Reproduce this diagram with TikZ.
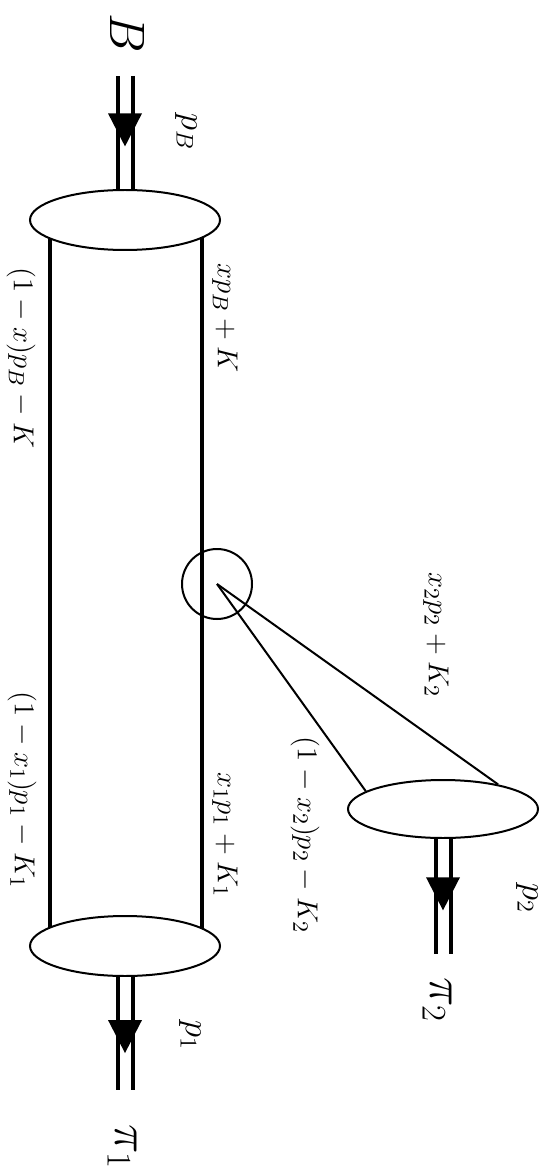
\documentclass[tikz,border=0pt]{standalone}
\usetikzlibrary{shapes.geometric,decorations.markings,calc}
\begin{document}
\begin{tikzpicture}[x=0.5pt,y=-0.5pt,
  blob/.style={ellipse,draw,line width=1pt,inner sep=0pt,minimum width=95pt,minimum height=30pt},
  vertex/.style={circle,draw,line width=1pt,inner sep=0pt,minimum size=35pt},
  quarkline/.style={line width=2pt},
  gluonline/.style={line width=1pt},
  meson/.style={double,line width=2pt,double distance=5.5pt},
  tipat/.style={postaction={decorate,decoration={markings,
      mark=at position #1 with {\fill (0,0) -- (-16.5pt,8.5pt) -- (-16.5pt,-8.5pt) -- cycle;}}}},
  lab/.style={rotate=-90,inner sep=0pt,font=\fontsize{15}{18}\selectfont},
  plab/.style={rotate=-90,inner sep=0pt,font=\fontsize{18}{21}\selectfont},
  biglab/.style={rotate=-90,inner sep=0pt,font=\fontsize{26}{31}\selectfont}
]
\path[use as bounding box] (0,0) rectangle (550,1170);

% blobs
\node[blob] (topE) at (125,220) {};
\node[blob] (botE) at (125,946) {};
\node[blob,minimum height=29pt] (rightE) at (443,809) {};
\node[vertex] (vtx) at (217,584) {};

% free ends of meson lines
\coordinate (Bin) at (125,76);
\coordinate (P1out) at (125,1090);
\coordinate (P2out) at (443,954);

% meson lines
\draw[meson,tipat=0.623] (Bin) -- (topE.north);
\draw[meson,tipat=0.673] (botE.south) -- (P1out);
\draw[meson,tipat=0.62] (rightE.south) -- (P2out);

% quark lines
\draw[quarkline] ($(topE.center)+(-75,18)$) -- ($(botE.center)+(-75,-18)$);
\draw[quarkline] ($(topE.center)+(77,17.5)$) -- ($(botE.center)+(77,-17.5)$);

% lines to pi_2
\draw[gluonline] (vtx.center) -- (rightE.24);
\draw[gluonline] (vtx.center) -- (rightE.167);

% labels
\node[biglab] (lB) at (127,33) {$B$};
\node[biglab] (lpi1) at (122,1147) {$\pi_1$};
\node[biglab] (lpi2) at (437,1000) {$\pi_2$};
\node[plab] (lpB) at (186,132) {$p_B$};
\node[plab] (lp1) at (190,1035) {$p_1$};
\node[plab] (lp2) at (527,898) {$p_2$};
\node[lab] (l1) at (225,318) {$xp_B+K$};
\node[lab] (l2) at (21,358) {$(1-x)p_B-K$};
\node[lab] (l3) at (225,835) {$x_1p_1+K_1$};
\node[lab] (l4) at (22,790) {$(1-x_1)p_1-K_1$};
\node[lab] (l5) at (436,635) {$x_2p_2+K_2$};
\node[lab] (l6) at (305,835) {$(1-x_2)p_2-K_2$};
\end{tikzpicture}
\end{document}
